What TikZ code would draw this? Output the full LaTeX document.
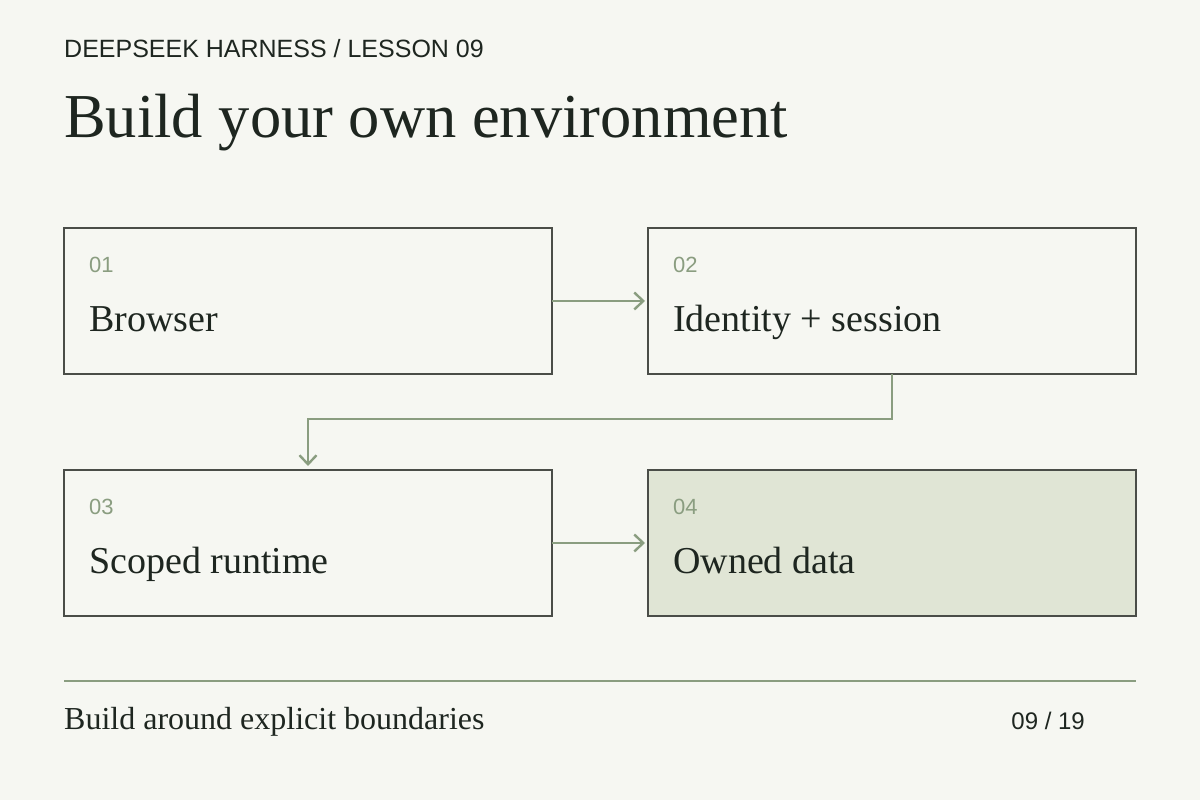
\documentclass[tikz,border=0pt]{standalone}
\usepackage{fontspec}
\setmainfont{Liberation Serif}
\setsansfont{Liberation Sans}
\usetikzlibrary{positioning,arrows.meta}

\definecolor{paper}{HTML}{F6F7F2}
\definecolor{ink}{HTML}{1E2620}
\definecolor{edge}{HTML}{4A4D48}
\definecolor{sage}{HTML}{8A9D80}
\definecolor{moss}{HTML}{E0E5D5}

\begin{document}
\begin{tikzpicture}[x=1pt, y=1pt, node distance={96pt},
  main/.style = {draw=edge, line width=1.7pt, minimum width=488pt, minimum height=146pt, inner sep=0pt, outer sep=0pt},
  num/.style = {anchor=base west, inner sep=0pt, text=sage, font=\sffamily\fontsize{22}{26}\selectfont},
  lbl/.style = {anchor=base west, inner sep=0pt, text=ink, font=\fontsize{38}{44}\selectfont},
  flow/.style = {draw=sage, line width=2.4pt, -{Straight Barb[length=9pt, width=17pt, line width=2.4pt]}}]
\useasboundingbox[fill=paper] (0,0) rectangle (1200,800);

% header
\node[anchor=base west, inner sep=0pt, text=ink, font=\sffamily\fontsize{25}{30}\selectfont] (kicker) at (64,742) {DEEPSEEK HARNESS / LESSON 09};
\node[anchor=base west, inner sep=0pt, text=ink, font=\fontsize{62.5}{70}\selectfont] (title) at (64,662) {Build your own environment};

% boxes
\node[main] (1) at (308,499) {};
\node[main] (2) [right=of 1] {};
\node[main] (3) at (308,257) {};
\node[main, fill=moss] (4) [right=of 3] {};

\node[num] (n1) at ([xshift=25pt, yshift=-45pt]1.north west) {01};
\node[lbl] (t1) at ([xshift=25pt, yshift=-104pt]1.north west) {Browser};
\node[num] (n2) at ([xshift=25pt, yshift=-45pt]2.north west) {02};
\node[lbl] (t2) at ([xshift=25pt, yshift=-104pt]2.north west) {Identity + session};
\node[num] (n3) at ([xshift=25pt, yshift=-45pt]3.north west) {03};
\node[lbl] (t3) at ([xshift=25pt, yshift=-104pt]3.north west) {Scoped runtime};
\node[num] (n4) at ([xshift=25pt, yshift=-45pt]4.north west) {04};
\node[lbl] (t4) at ([xshift=25pt, yshift=-104pt]4.north west) {Owned data};

% connectors
\draw[flow, shorten >=3pt] (1) -- (2);
\draw[flow, shorten >=4pt] (2.south) -- ++(0,-45) -| (3.north);
\draw[flow, shorten >=3pt] (3) -- (4);

% footer
\coordinate (rule-l) at (64,119);
\coordinate (rule-r) at (1136,119);
\draw[sage, line width=2pt] (rule-l) -- (rule-r);
\node[anchor=base west, inner sep=0pt, text=ink, font=\fontsize{32}{38}\selectfont] (note) at (64,70) {Build around explicit boundaries};
\node[anchor=base east, inner sep=0pt, text=ink, font=\sffamily\fontsize{24}{28}\selectfont] (page) at (1085,70) {09 / 19};
\end{tikzpicture}
\end{document}
